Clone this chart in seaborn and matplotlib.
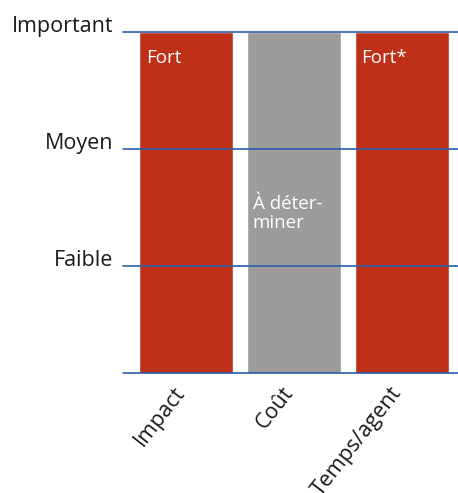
import pandas as pd
import seaborn as sns
import matplotlib.pyplot as plt

# Data
criteres = ['Impact', 'Coût', 'Temps/agent']
niveaux = [3, 3, 3]
libelles = ['Fort', 'À déter-\nminer', 'Fort*']
couleurs = ['#BF3019', '#9D9C9A', '#BF3019']
niveau_ticks = [1, 2, 3]
niveau_labels = ['Faible', 'Moyen', 'Important']

df = pd.DataFrame({'critere': criteres, 'niveau': niveaux})

sns.set_style('white')
plt.rcParams['font.family'] = ['Open Sans', 'DejaVu Sans']

fig = plt.figure(figsize=(4.58, 4.93), dpi=100)
ax = fig.add_axes([0.2686, 0.2434, 0.7314, 0.6916])

sns.barplot(data=df, x='critere', y='niveau', hue='critere',
            palette=couleurs, width=0.87, saturation=1, legend=False, ax=ax)

ax.set_xlim(-0.58, 2.52)
ax.set_ylim(0.085, 3)

# horizontal level lines on top of the bars
for y in [0.085] + niveau_ticks:
    ax.axhline(y, color='#2B5DA6', lw=1.2, zorder=5, clip_on=False)

for s in ax.spines.values():
    s.set_visible(False)

ax.set_yticks(niveau_ticks)
ax.set_yticklabels(niveau_labels, fontsize=15.5, va='baseline', color='#1a1a1a')
ax.tick_params(axis='y', length=0, pad=7)
ax.set_xticks(range(len(criteres)))
ax.set_xticklabels(criteres, rotation=52, ha='right', va='baseline', rotation_mode='anchor',
                   fontsize=15.5, color='#1a1a1a')
ax.tick_params(axis='x', length=0, pad=14)
ax.set_xlabel('')
ax.set_ylabel('')

# text inside the bars
ax.text(0 - 0.37, 2.735, libelles[0], color='white', fontsize=13.5, va='baseline', ha='left')
ax.text(1 - 0.38, 1.45, libelles[1], color='white', fontsize=13.5, va='center', ha='left',
        linespacing=1.05)
ax.text(2 - 0.38, 2.735, libelles[2], color='white', fontsize=13.5, va='baseline', ha='left')

fig.savefig('out.png', dpi=100)
